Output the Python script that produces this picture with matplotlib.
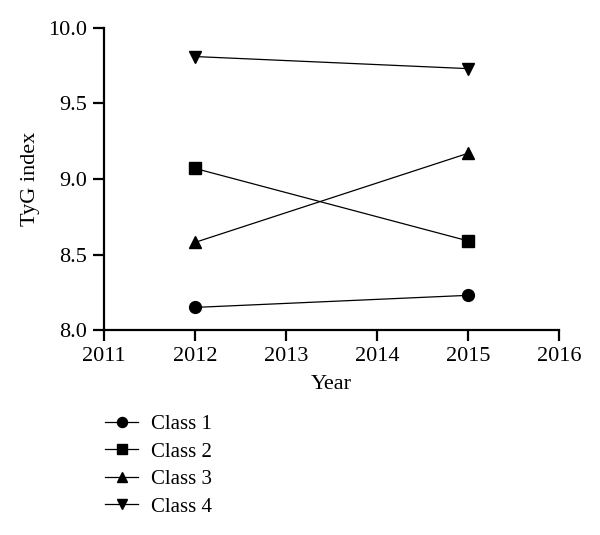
import matplotlib.pyplot as plt

plt.rcParams['font.family'] = ['Liberation Serif', 'DejaVu Serif']

years = [2012, 2015]
class_1 = [8.15, 8.23]
class_2 = [9.07, 8.59]
class_3 = [8.58, 9.17]
class_4 = [9.81, 9.73]

series = [
    ("Class 1", class_1, 'o'),
    ("Class 2", class_2, 's'),
    ("Class 3", class_3, '^'),
    ("Class 4", class_4, 'v'),
]

fig = plt.figure(figsize=(6, 5.35), dpi=100)
ax = fig.add_axes([0.173, 0.383, 0.759, 0.565])

for label, values, marker in series:
    ax.plot(years, values, color='black', linewidth=0.9, marker=marker,
            markersize=8.5, label=label, clip_on=False)

ax.set_xlim(2011, 2016)
ax.set_ylim(8.0, 10.0)
ax.set_xticks([2011, 2012, 2013, 2014, 2015, 2016])
ax.set_yticks([8.0, 8.5, 9.0, 9.5, 10.0])
ax.set_yticklabels(["8.0", "8.5", "9.0", "9.5", "10.0"])

for side in ['top', 'right']:
    ax.spines[side].set_visible(False)
for side in ['left', 'bottom']:
    ax.spines[side].set_linewidth(1.6)
ax.tick_params(direction='out', length=8, width=1.6, labelsize=16, pad=4)

ax.set_xlabel("Year", fontsize=16, labelpad=7)
ax.set_ylabel("TyG index", fontsize=16, labelpad=6)

leg = fig.legend(loc='upper left', bbox_to_anchor=(0.175, 0.225), frameon=False,
                 fontsize=15, handlelength=1.6, handletextpad=0.6,
                 labelspacing=0.38, borderaxespad=0, borderpad=0,
                 markerscale=0.85)

fig.savefig('out.png', dpi=100)
